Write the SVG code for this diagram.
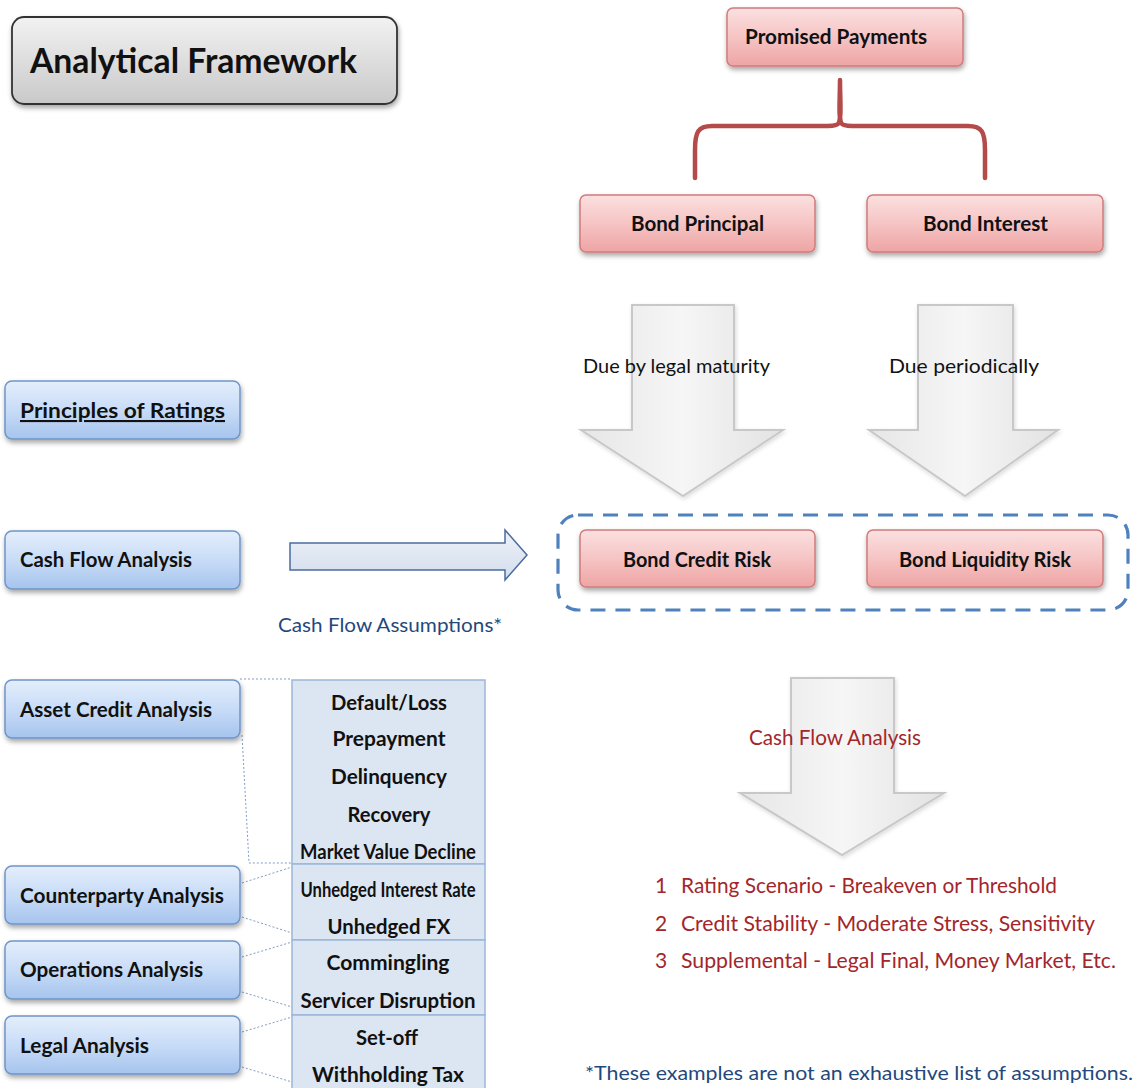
<svg xmlns="http://www.w3.org/2000/svg" width="1139" height="1088" viewBox="0 0 1139 1088">
<defs>
<linearGradient id="gGray" x1="0" y1="0" x2="0" y2="1"><stop offset="0" stop-color="#f2f2f2"/><stop offset="1" stop-color="#c9c9c9"/></linearGradient>
<linearGradient id="gPink" x1="0" y1="0" x2="0" y2="1"><stop offset="0" stop-color="#fbe0e0"/><stop offset="0.5" stop-color="#f6c4c4"/><stop offset="1" stop-color="#eea4a4"/></linearGradient>
<linearGradient id="gBlue" x1="0" y1="0" x2="0" y2="1"><stop offset="0" stop-color="#e4eefc"/><stop offset="0.5" stop-color="#c8dcf7"/><stop offset="1" stop-color="#a6c4ee"/></linearGradient>
<linearGradient id="gArrow" x1="0" y1="0" x2="1" y2="0"><stop offset="0" stop-color="#e6e6e6"/><stop offset="0.5" stop-color="#f6f6f6"/><stop offset="1" stop-color="#e2e2e2"/></linearGradient>
<linearGradient id="gHArrow" x1="0" y1="0" x2="0" y2="1"><stop offset="0" stop-color="#eef2f8"/><stop offset="1" stop-color="#d3dded"/></linearGradient>
<filter id="sh" x="-10%" y="-20%" width="125%" height="160%"><feDropShadow dx="1" dy="3" stdDeviation="2.5" flood-color="#000" flood-opacity="0.35"/></filter>
<filter id="shs" x="-10%" y="-10%" width="125%" height="125%"><feDropShadow dx="1" dy="2" stdDeviation="2" flood-color="#000" flood-opacity="0.15"/></filter>
</defs>
<style>
text{font-family:Lato,"Liberation Sans",sans-serif;}
.b{font-weight:bold;font-size:21px;fill:#111;}
.pink{fill:url(#gPink);stroke:#d17b7b;stroke-width:1.5;}
.blue{fill:url(#gBlue);stroke:#6f95c8;stroke-width:1.5;}
.darrow{fill:url(#gArrow);stroke:#c8c8c8;stroke-width:2;}
.tbl{fill:#dce6f2;stroke:#9bb7d8;stroke-width:1.5;}
.tt{font-weight:bold;font-size:21px;fill:#111;text-anchor:middle;}
.dot{fill:none;stroke:#7f9cc4;stroke-width:1;stroke-dasharray:2,2;}
.lbl{font-size:20px;fill:#111;}
.red{font-size:21px;fill:#a3262b;}
.navy{font-size:20px;fill:#1f497d;}
</style>

<g id="title">
<rect x="12" y="17" width="385" height="87" rx="12" fill="url(#gGray)" stroke="#333" stroke-width="1.8" filter="url(#sh)"/>
<text x="30" y="73" font-size="35" font-weight="bold" fill="#111" textLength="327" lengthAdjust="spacingAndGlyphs">Analytical Framework</text>
</g>

<g id="connectors">
<path d="M840,80 C840,100 842,120 838,124 C836,126 830,126 822,126 L712,126 C698,126 695,132 695,150 L695,178 M840,80 C840,100 838,120 842,124 C844,126 850,126 858,126 L968,126 C982,126 985,132 985,150 L985,178" fill="none" stroke="#b44a4a" stroke-width="4.5" stroke-linecap="round"/>
<path d="M290,543 L505,543 L505,530 L527,555 L505,580 L505,570 L290,570 Z" fill="url(#gHArrow)" stroke="#4a6c9e" stroke-width="1.5"/>
<path class="dot" d="M240,679 L292,679 M242,735 L249,863 L292,863"/>
<path class="dot" d="M242,883 L292,867 M242,917 L292,933 M242,957 L292,942 M242,992 L292,1007 M242,1032 L292,1017 M242,1067 L292,1082"/>
</g>

<g id="arrow-principal">
<path class="darrow" d="M632,305 L734,305 L734,430 L783,430 L683,496 L581,430 L632,430 Z" filter="url(#shs)"/>
<text class="lbl" x="583" y="373" textLength="187" lengthAdjust="spacingAndGlyphs">Due by legal maturity</text>
</g>
<g id="arrow-interest">
<path class="darrow" d="M918,305 L1013,305 L1013,430 L1058,430 L965,496 L869,430 L918,430 Z" filter="url(#shs)"/>
<text class="lbl" x="889" y="373" textLength="150" lengthAdjust="spacingAndGlyphs">Due periodically</text>
</g>
<g id="arrow-cfa">
<path class="darrow" d="M791,678 L894,678 L894,793 L944,793 L842,855 L740,793 L791,793 Z" filter="url(#shs)"/>
<text class="red" x="749" y="745" textLength="172" lengthAdjust="spacingAndGlyphs">Cash Flow Analysis</text>
</g>

<g id="promised-payments">
<rect class="pink" x="727" y="8" width="236" height="58" rx="6" filter="url(#sh)"/>
<text class="b" x="745" y="44" textLength="182" lengthAdjust="spacingAndGlyphs">Promised Payments</text>
</g>
<g id="bond-principal">
<rect class="pink" x="580" y="195" width="235" height="57" rx="6" filter="url(#sh)"/>
<text class="b" x="631" y="231" textLength="133" lengthAdjust="spacingAndGlyphs">Bond Principal</text>
</g>
<g id="bond-interest">
<rect class="pink" x="867" y="195" width="236" height="57" rx="6" filter="url(#sh)"/>
<text class="b" x="923" y="231" textLength="125" lengthAdjust="spacingAndGlyphs">Bond Interest</text>
</g>

<g id="risk-group">
<rect x="558" y="515" width="570" height="95" rx="20" fill="none" stroke="#4f81bd" stroke-width="3.2" stroke-dasharray="15,10"/>
</g>
<g id="bond-credit-risk">
<rect class="pink" x="580" y="530" width="235" height="57" rx="6" filter="url(#sh)"/>
<text class="b" x="623" y="567" textLength="148" lengthAdjust="spacingAndGlyphs">Bond Credit Risk</text>
</g>
<g id="bond-liquidity-risk">
<rect class="pink" x="867" y="530" width="236" height="57" rx="6" filter="url(#sh)"/>
<text class="b" x="899" y="567" textLength="172" lengthAdjust="spacingAndGlyphs">Bond Liquidity Risk</text>
</g>

<g id="principles-of-ratings">
<rect class="blue" x="5" y="381" width="235" height="58" rx="7" filter="url(#sh)"/>
<text class="b" x="20" y="418" textLength="205" lengthAdjust="spacingAndGlyphs" text-decoration="underline">Principles of Ratings</text>
</g>
<g id="cash-flow-analysis">
<rect class="blue" x="5" y="531" width="235" height="58" rx="7" filter="url(#sh)"/>
<text class="b" x="20" y="567" textLength="172" lengthAdjust="spacingAndGlyphs">Cash Flow Analysis</text>
</g>
<g id="cash-flow-assumptions">
<text class="navy" x="278" y="632" textLength="224" lengthAdjust="spacingAndGlyphs">Cash Flow Assumptions*</text>
</g>
<g id="asset-credit-analysis">
<rect class="blue" x="5" y="680" width="235" height="58" rx="7" filter="url(#sh)"/>
<text class="b" x="20" y="717" textLength="192" lengthAdjust="spacingAndGlyphs">Asset Credit Analysis</text>
</g>
<g id="counterparty-analysis">
<rect class="blue" x="5" y="866" width="235" height="58" rx="7" filter="url(#sh)"/>
<text class="b" x="20" y="903" textLength="204" lengthAdjust="spacingAndGlyphs">Counterparty Analysis</text>
</g>
<g id="operations-analysis">
<rect class="blue" x="5" y="941" width="235" height="58" rx="7" filter="url(#sh)"/>
<text class="b" x="20" y="977" textLength="183" lengthAdjust="spacingAndGlyphs">Operations Analysis</text>
</g>
<g id="legal-analysis">
<rect class="blue" x="5" y="1016" width="235" height="58" rx="7" filter="url(#sh)"/>
<text class="b" x="20" y="1053" textLength="129" lengthAdjust="spacingAndGlyphs">Legal Analysis</text>
</g>

<g id="asset-factors">
<rect class="tbl" x="292" y="680" width="193" height="184"/>
<text class="tt" x="389" y="710" textLength="116" lengthAdjust="spacingAndGlyphs">Default/Loss</text>
<text class="tt" x="389" y="746" textLength="113" lengthAdjust="spacingAndGlyphs">Prepayment</text>
<text class="tt" x="389" y="784" textLength="116" lengthAdjust="spacingAndGlyphs">Delinquency</text>
<text class="tt" x="389" y="822" textLength="83" lengthAdjust="spacingAndGlyphs">Recovery</text>
<text class="tt" x="388" y="859" font-size="18" textLength="176" lengthAdjust="spacingAndGlyphs">Market Value Decline</text>
</g>
<g id="counterparty-factors">
<rect class="tbl" x="292" y="864" width="193" height="76"/>
<text class="tt" x="388" y="897" font-size="16" textLength="175" lengthAdjust="spacingAndGlyphs">Unhedged Interest Rate</text>
<text class="tt" x="389" y="934" textLength="123" lengthAdjust="spacingAndGlyphs">Unhedged FX</text>
</g>
<g id="operations-factors">
<rect class="tbl" x="292" y="940" width="193" height="75"/>
<text class="tt" x="388" y="970" textLength="123" lengthAdjust="spacingAndGlyphs">Commingling</text>
<text class="tt" x="388" y="1008" textLength="175" lengthAdjust="spacingAndGlyphs">Servicer Disruption</text>
</g>
<g id="legal-factors">
<rect class="tbl" x="292" y="1015" width="193" height="80"/>
<text class="tt" x="387" y="1045" textLength="62" lengthAdjust="spacingAndGlyphs">Set-off</text>
<text class="tt" x="388" y="1082" textLength="152" lengthAdjust="spacingAndGlyphs">Withholding Tax</text>
</g>

<g id="scenarios">
<text class="red" x="655" y="893">1</text>
<text class="red" x="681" y="893" textLength="376" lengthAdjust="spacingAndGlyphs">Rating Scenario - Breakeven or Threshold</text>
<text class="red" x="655" y="931">2</text>
<text class="red" x="681" y="931" textLength="414" lengthAdjust="spacingAndGlyphs">Credit Stability - Moderate Stress, Sensitivity</text>
<text class="red" x="655" y="968">3</text>
<text class="red" x="681" y="968" textLength="435" lengthAdjust="spacingAndGlyphs">Supplemental - Legal Final, Money Market, Etc.</text>
</g>
<g id="footnote">
<text class="navy" x="585" y="1080" textLength="548" lengthAdjust="spacingAndGlyphs">*These examples are not an exhaustive list of assumptions.</text>
</g>
</svg>
